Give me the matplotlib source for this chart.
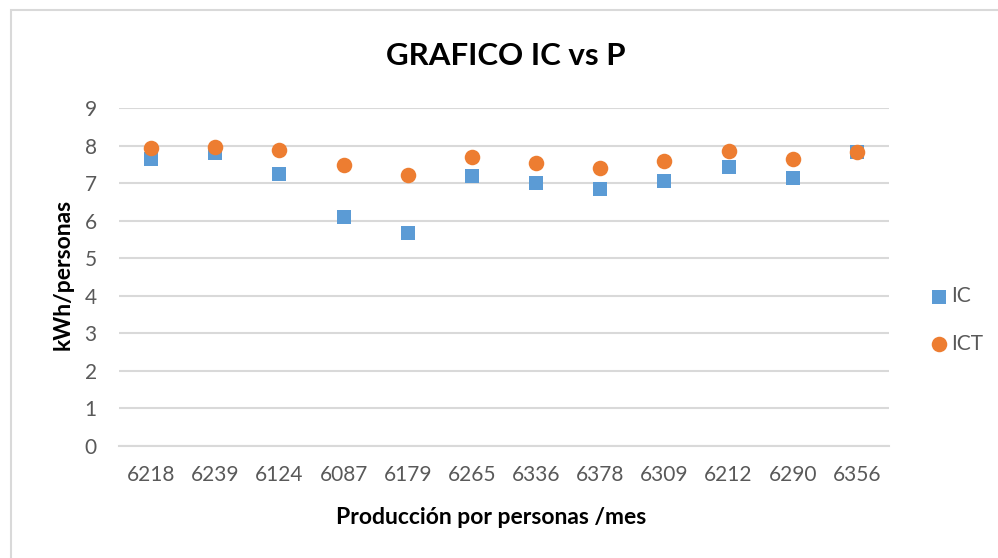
import numpy as np
import matplotlib
matplotlib.use("Agg")
import matplotlib.pyplot as plt
from matplotlib.patches import Rectangle

# datos
produccion = ["6218", "6239", "6124", "6087", "6179", "6265",
              "6336", "6378", "6309", "6212", "6290", "6356"]
ic = [7.65, 7.80, 7.24, 6.09, 5.68, 7.20, 7.00, 6.84, 7.06, 7.44, 7.14, 7.83]
ict = [7.93, 7.97, 7.90, 7.50, 7.22, 7.69, 7.53, 7.42, 7.60, 7.86, 7.65, 7.83]

plt.rcParams['font.family'] = ['Lato', 'DejaVu Sans']

azul = '#5B9BD5'
naranja = '#ED7D31'
gris = '#595959'
rejilla = '#D9D9D9'

fig = plt.figure(figsize=(9.98, 5.58), dpi=100)
ax = fig.add_axes([119/998, 1-446/558, (889-119)/998, (446-108.3)/558])

x = np.arange(len(produccion))
ax.scatter(x, ic, marker='s', s=115, color=azul, label='IC', zorder=3, linewidths=0)
ax.scatter(x, ict, marker='o', s=125, color=naranja, label='ICT', zorder=4, linewidths=0)

ax.set_xlim(-0.5, len(produccion) - 0.5)
ax.set_ylim(0, 9)
ax.set_yticks(range(0, 10))
ax.set_xticks(x)
ax.set_xticklabels(produccion)

ax.grid(axis='y', color=rejilla, linewidth=1.5, zorder=0)
ax.set_axisbelow(True)
for s in ['top', 'right', 'left']:
    ax.spines[s].set_visible(False)
ax.spines['bottom'].set_color(rejilla)
ax.spines['bottom'].set_linewidth(1.5)
ax.tick_params(axis='both', length=0, labelsize=15, colors=gris)
ax.tick_params(axis='y', pad=16)
ax.tick_params(axis='x', pad=14)

fig.text(506/998, 1-56/558, 'GRAFICO IC vs P', ha='center', va='center',
         fontsize=22.5, fontweight='bold', color='black')
fig.text(491/998, 1-517/558, 'Producción por personas /mes', ha='center', va='center',
         fontsize=16.5, fontweight='bold', color='black')
fig.text(63/998, 1-274/558, 'kWh/personas', ha='center', va='center', rotation=90,
         fontsize=16.5, fontweight='bold', color='black')

leg = ax.legend(loc='center left', bbox_to_anchor=(920/998, 1-320/558),
                bbox_transform=fig.transFigure, frameon=False, fontsize=15,
                handletextpad=0.1, handlelength=1.0, labelspacing=1.3,
                borderaxespad=0)
for t in leg.get_texts():
    t.set_color(gris)

# borde del area del grafico
fig.patches.append(Rectangle((10.5/998, -0.1), 2, 1 - 10.5/558 + 0.1,
                             transform=fig.transFigure, fill=False,
                             edgecolor=rejilla, linewidth=1.5))

fig.savefig('out.png', dpi=100)
